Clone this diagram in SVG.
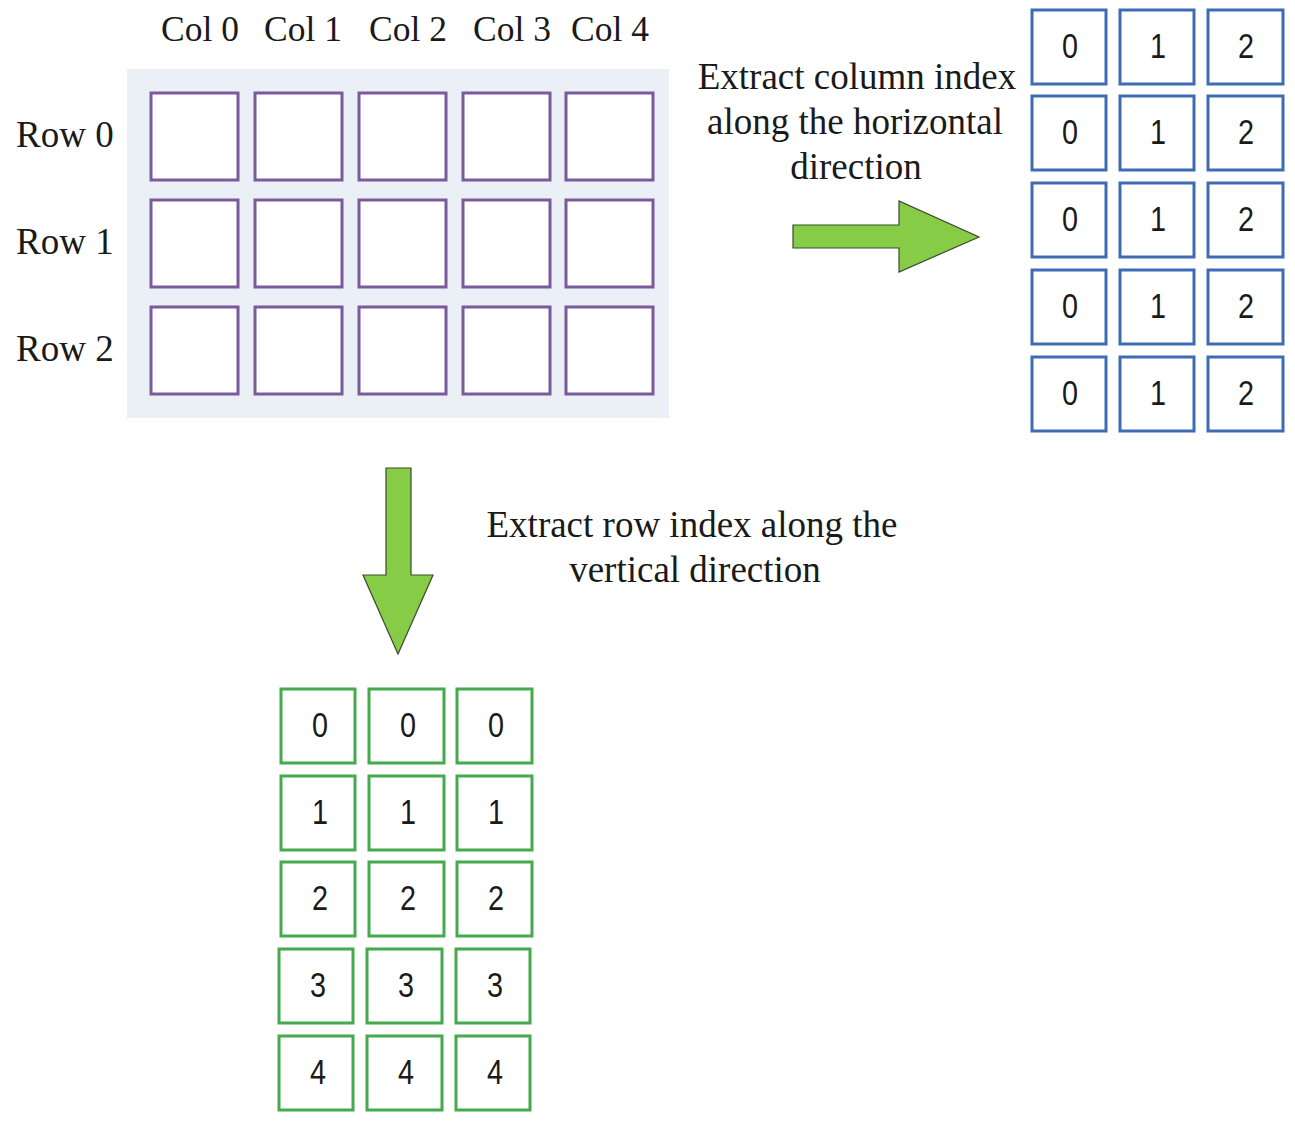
<svg xmlns="http://www.w3.org/2000/svg" width="1295" height="1121" viewBox="0 0 1295 1121">
<style>
.lbl{font-family:"Liberation Serif","Times New Roman",serif;font-size:37px;fill:#1a1a1a}
.col{font-size:35.5px}
.num{font-family:"Liberation Sans Narrow","Liberation Sans",Arial,sans-serif;font-size:35px;fill:#1a1a1a;text-anchor:middle}
.p{fill:#fff;stroke:#7b5a9c;stroke-width:3}
.b{fill:#fff;stroke:#3d6cb4;stroke-width:3}
.g{fill:#fff;stroke:#45a94d;stroke-width:3}
.arr{fill:#86cc46;stroke:#3b4a2c;stroke-width:1.2}
</style>
<rect width="1295" height="1121" fill="#fff"/>
<g id="source">
<rect x="127" y="69" width="542" height="349" fill="#ebeff6"/>
<rect class="p" x="151" y="93" width="87" height="87"/><rect class="p" x="255" y="93" width="87" height="87"/><rect class="p" x="359" y="93" width="87" height="87"/><rect class="p" x="463" y="93" width="87" height="87"/><rect class="p" x="566" y="93" width="87" height="87"/>
<rect class="p" x="151" y="200" width="87" height="87"/><rect class="p" x="255" y="200" width="87" height="87"/><rect class="p" x="359" y="200" width="87" height="87"/><rect class="p" x="463" y="200" width="87" height="87"/><rect class="p" x="566" y="200" width="87" height="87"/>
<rect class="p" x="151" y="307" width="87" height="87"/><rect class="p" x="255" y="307" width="87" height="87"/><rect class="p" x="359" y="307" width="87" height="87"/><rect class="p" x="463" y="307" width="87" height="87"/><rect class="p" x="566" y="307" width="87" height="87"/>
<g class="lbl col" text-anchor="middle">
<text x="200" y="41">Col 0</text><text x="303" y="41">Col 1</text><text x="408" y="41">Col 2</text><text x="512" y="41">Col 3</text><text x="610" y="41">Col 4</text>
</g>
<g class="lbl">
<text x="16" y="147">Row 0</text><text x="16" y="254">Row 1</text><text x="16" y="361">Row 2</text>
</g>
</g>
<g id="col-index">
<g id="col-r0"><rect class="b" x="1032" y="10" width="74" height="74"/><rect class="b" x="1120" y="10" width="74" height="74"/><rect class="b" x="1208" y="10" width="75" height="74"/><text class="num" x="1070" y="58" textLength="16" lengthAdjust="spacingAndGlyphs">0</text><text class="num" x="1158" y="58" textLength="16" lengthAdjust="spacingAndGlyphs">1</text><text class="num" x="1246" y="58" textLength="16" lengthAdjust="spacingAndGlyphs">2</text></g>
<g id="col-r1"><rect class="b" x="1032" y="96" width="74" height="74"/><rect class="b" x="1120" y="96" width="74" height="74"/><rect class="b" x="1208" y="96" width="75" height="74"/><text class="num" x="1070" y="144" textLength="16" lengthAdjust="spacingAndGlyphs">0</text><text class="num" x="1158" y="144" textLength="16" lengthAdjust="spacingAndGlyphs">1</text><text class="num" x="1246" y="144" textLength="16" lengthAdjust="spacingAndGlyphs">2</text></g>
<g id="col-r2"><rect class="b" x="1032" y="183" width="74" height="74"/><rect class="b" x="1120" y="183" width="74" height="74"/><rect class="b" x="1208" y="183" width="75" height="74"/><text class="num" x="1070" y="231" textLength="16" lengthAdjust="spacingAndGlyphs">0</text><text class="num" x="1158" y="231" textLength="16" lengthAdjust="spacingAndGlyphs">1</text><text class="num" x="1246" y="231" textLength="16" lengthAdjust="spacingAndGlyphs">2</text></g>
<g id="col-r3"><rect class="b" x="1032" y="270" width="74" height="74"/><rect class="b" x="1120" y="270" width="74" height="74"/><rect class="b" x="1208" y="270" width="75" height="74"/><text class="num" x="1070" y="318" textLength="16" lengthAdjust="spacingAndGlyphs">0</text><text class="num" x="1158" y="318" textLength="16" lengthAdjust="spacingAndGlyphs">1</text><text class="num" x="1246" y="318" textLength="16" lengthAdjust="spacingAndGlyphs">2</text></g>
<g id="col-r4"><rect class="b" x="1032" y="357" width="74" height="74"/><rect class="b" x="1120" y="357" width="74" height="74"/><rect class="b" x="1208" y="357" width="75" height="74"/><text class="num" x="1070" y="405" textLength="16" lengthAdjust="spacingAndGlyphs">0</text><text class="num" x="1158" y="405" textLength="16" lengthAdjust="spacingAndGlyphs">1</text><text class="num" x="1246" y="405" textLength="16" lengthAdjust="spacingAndGlyphs">2</text></g>
</g>
<g id="row-index">
<g id="row-r0"><rect class="g" x="281" y="689" width="74" height="74"/><rect class="g" x="369" y="689" width="75" height="74"/><rect class="g" x="457" y="689" width="75" height="74"/><text class="num" x="320" y="737" textLength="16" lengthAdjust="spacingAndGlyphs">0</text><text class="num" x="408" y="737" textLength="16" lengthAdjust="spacingAndGlyphs">0</text><text class="num" x="496" y="737" textLength="16" lengthAdjust="spacingAndGlyphs">0</text></g>
<g id="row-r1"><rect class="g" x="281" y="776" width="74" height="74"/><rect class="g" x="369" y="776" width="75" height="74"/><rect class="g" x="457" y="776" width="75" height="74"/><text class="num" x="320" y="824" textLength="16" lengthAdjust="spacingAndGlyphs">1</text><text class="num" x="408" y="824" textLength="16" lengthAdjust="spacingAndGlyphs">1</text><text class="num" x="496" y="824" textLength="16" lengthAdjust="spacingAndGlyphs">1</text></g>
<g id="row-r2"><rect class="g" x="281" y="862" width="74" height="74"/><rect class="g" x="369" y="862" width="75" height="74"/><rect class="g" x="457" y="862" width="75" height="74"/><text class="num" x="320" y="910" textLength="16" lengthAdjust="spacingAndGlyphs">2</text><text class="num" x="408" y="910" textLength="16" lengthAdjust="spacingAndGlyphs">2</text><text class="num" x="496" y="910" textLength="16" lengthAdjust="spacingAndGlyphs">2</text></g>
<g id="row-r3"><rect class="g" x="279" y="949" width="74" height="74"/><rect class="g" x="367" y="949" width="75" height="74"/><rect class="g" x="456" y="949" width="74" height="74"/><text class="num" x="318" y="997" textLength="16" lengthAdjust="spacingAndGlyphs">3</text><text class="num" x="406" y="997" textLength="16" lengthAdjust="spacingAndGlyphs">3</text><text class="num" x="495" y="997" textLength="16" lengthAdjust="spacingAndGlyphs">3</text></g>
<g id="row-r4"><rect class="g" x="279" y="1036" width="74" height="74"/><rect class="g" x="367" y="1036" width="75" height="74"/><rect class="g" x="456" y="1036" width="74" height="74"/><text class="num" x="318" y="1084" textLength="16" lengthAdjust="spacingAndGlyphs">4</text><text class="num" x="406" y="1084" textLength="16" lengthAdjust="spacingAndGlyphs">4</text><text class="num" x="495" y="1084" textLength="16" lengthAdjust="spacingAndGlyphs">4</text></g>
</g>
<g id="connectors">
<polygon class="arr" points="793,225 899,225 899,201 979,237 899,272 899,248 793,248"/>
<polygon class="arr" points="386,468 411,468 411,575 433,575 398,654 363,575 386,575"/>
</g>
<g id="labels" class="lbl" text-anchor="middle">
<text x="857" y="89">Extract column index</text>
<text x="855" y="134">along the horizontal</text>
<text x="856" y="179">direction</text>
<text x="692" y="537">Extract row index along the</text>
<text x="695" y="582">vertical direction</text>
</g>
</svg>
